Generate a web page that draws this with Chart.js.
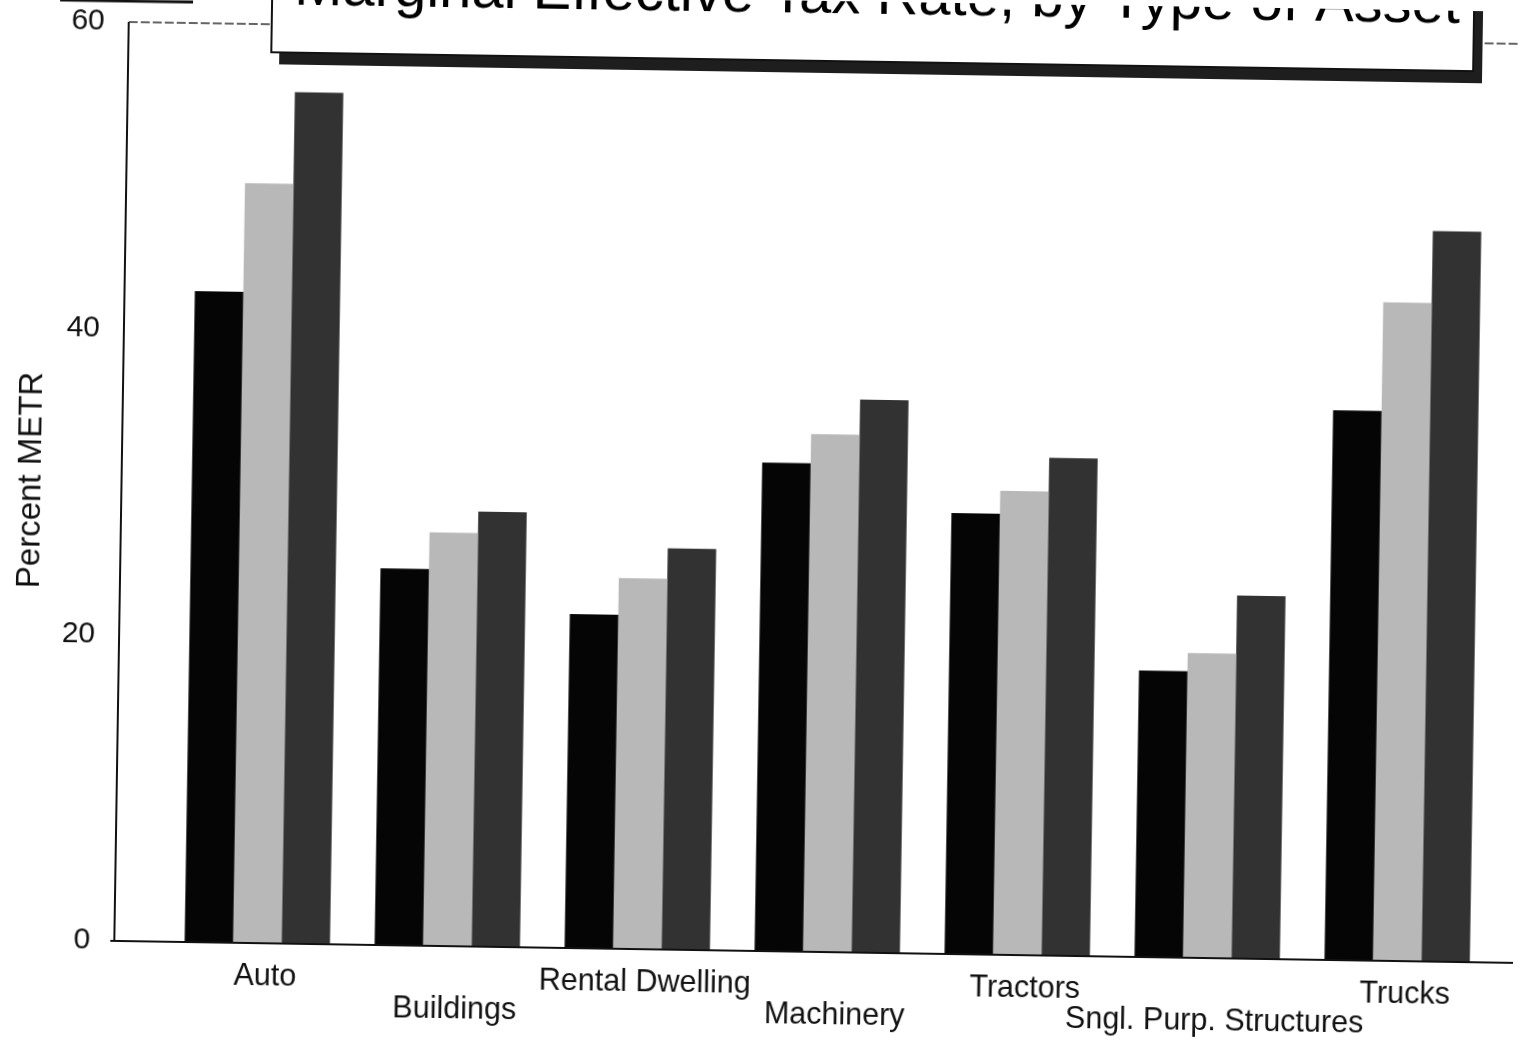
<!DOCTYPE html>
<html>
<head>
<meta charset="utf-8">
<script src="https://cdn.jsdelivr.net/npm/chart.js@4.4.1/dist/chart.umd.min.js"></script>
<style>
  html, body { margin: 0; padding: 0; background: #ffffff; overflow: hidden; }
  #wrap {
    position: absolute; left: 0; top: 0; width: 1520px; height: 1040px;
    transform: rotate(0.9deg); transform-origin: 760px 520px;
  }
</style>
</head>
<body>
<div id="wrap"><canvas id="c" width="1520" height="1040"></canvas></div>
<script>
// ---- data ----
const categories = ['Auto', 'Buildings', 'Rental Dwelling', 'Machinery', 'Tractors', 'Sngl. Purp. Structures', 'Trucks'];
const seriesBlack = [42.5, 24.6, 21.8, 31.9, 28.8, 18.7, 35.9];
const seriesLight = [49.6, 27.0, 24.2, 33.8, 30.3, 19.9, 43.0];
const seriesDark  = [55.6, 28.4, 26.2, 36.1, 32.5, 23.7, 47.7];
const yTickValues = [0, 20, 40, 60];
const titleText = 'Marginal Effective Tax Rate, by Type of Asset';
const yAxisTitle = 'Percent METR';

const FONT = '"Liberation Sans", Arial, Helvetica, sans-serif';

const decor = {
  id: 'decor',
  afterDatasetsDraw(chart) {
    const ctx = chart.ctx;
    const y = chart.scales.y;
    const yTop = y.getPixelForValue(yTickValues[yTickValues.length - 1]);
    const yBase = y.getPixelForValue(0);
    const axisX = chart.chartArea.left - 48;
    ctx.save();
    // frame top line (dashed, thin)
    ctx.strokeStyle = '#333';
    ctx.lineWidth = 1.5;
    ctx.setLineDash([9, 3]);
    ctx.beginPath();
    ctx.moveTo(axisX, yTop);
    ctx.lineTo(1530, yTop);
    ctx.stroke();
    ctx.setLineDash([]);
    // y axis line
    ctx.strokeStyle = '#111';
    ctx.lineWidth = 2;
    ctx.beginPath();
    ctx.moveTo(axisX, yTop);
    ctx.lineTo(axisX, yBase);
    ctx.stroke();
    // x axis line
    ctx.beginPath();
    ctx.moveTo(axisX - 4, yBase);
    ctx.lineTo(1530, yBase);
    ctx.stroke();
    // short cut-off line at top left
    ctx.lineWidth = 3;
    ctx.beginPath();
    ctx.moveTo(52, 11);
    ctx.lineTo(185, 11);
    ctx.stroke();
    ctx.restore();
  },
  afterDraw(chart) {
    const ctx = chart.ctx;
    const bx = 264, by = -40, bw = 1202, bh = 100;
    ctx.save();
    // shadow
    ctx.fillStyle = '#1e1e1e';
    ctx.fillRect(bx + 8, by + 11, bw + 1, bh + 1);
    // box
    ctx.fillStyle = '#ffffff';
    ctx.fillRect(bx, by, bw, bh);
    ctx.strokeStyle = '#111';
    ctx.lineWidth = 2;
    ctx.strokeRect(bx, by, bw, bh);
    // title text
    ctx.fillStyle = '#000';
    ctx.font = '58px ' + FONT;
    ctx.textAlign = 'center';
    ctx.textBaseline = 'alphabetic';
    ctx.fillText(titleText, bx + bw / 2 + 4, 12);
    ctx.restore();
  }
};

new Chart(document.getElementById('c'), {
  type: 'bar',
  data: {
    labels: categories,
    datasets: [
      { label: 'Series 1', data: seriesBlack, backgroundColor: '#050505' },
      { label: 'Series 2', data: seriesLight, backgroundColor: '#b8b8b8' },
      { label: 'Series 3', data: seriesDark,  backgroundColor: '#323232' }
    ]
  },
  options: {
    responsive: false,
    animation: false,
    events: [],
    layout: { padding: { top: 32, right: 21, left: 0, bottom: 0 } },
    datasets: { bar: { barPercentage: 1.0, categoryPercentage: 0.765, borderWidth: 0 } },
    plugins: { legend: { display: false }, tooltip: { enabled: false }, title: { display: false } },
    scales: {
      x: {
        offset: true,
        grid: { display: false, drawTicks: false },
        border: { display: false },
        afterFit(scale) { scale.height = 89; },
        ticks: {
          autoSkip: false, maxRotation: 0, minRotation: 0,
          padding: 18,
          labelOffset: 8,
          color: '#111',
          font: { family: FONT, size: 30.5, lineHeight: '30.5px' },
          callback(value, index) {
            const l = this.getLabelForValue(value);
            return index % 2 ? ['', l] : l;
          }
        }
      },
      y: {
        min: 0, max: 60,
        grid: { display: false, drawTicks: false },
        border: { display: false },
        afterFit(scale) {
          scale.width = 169;
          scale.paddingTop = 0;
          scale.paddingBottom = 0;
        },
        afterBuildTicks(scale) { scale.ticks = yTickValues.map(v => ({ value: v })); },
        ticks: {
          padding: 72,
          color: '#111',
          font: { family: FONT, size: 30 }
        },
        title: {
          display: true,
          text: yAxisTitle,
          color: '#111',
          padding: { top: 11, bottom: 0 },
          font: { family: FONT, size: 33 }
        }
      }
    }
  },
  plugins: [decor]
});
</script>
</body>
</html>
